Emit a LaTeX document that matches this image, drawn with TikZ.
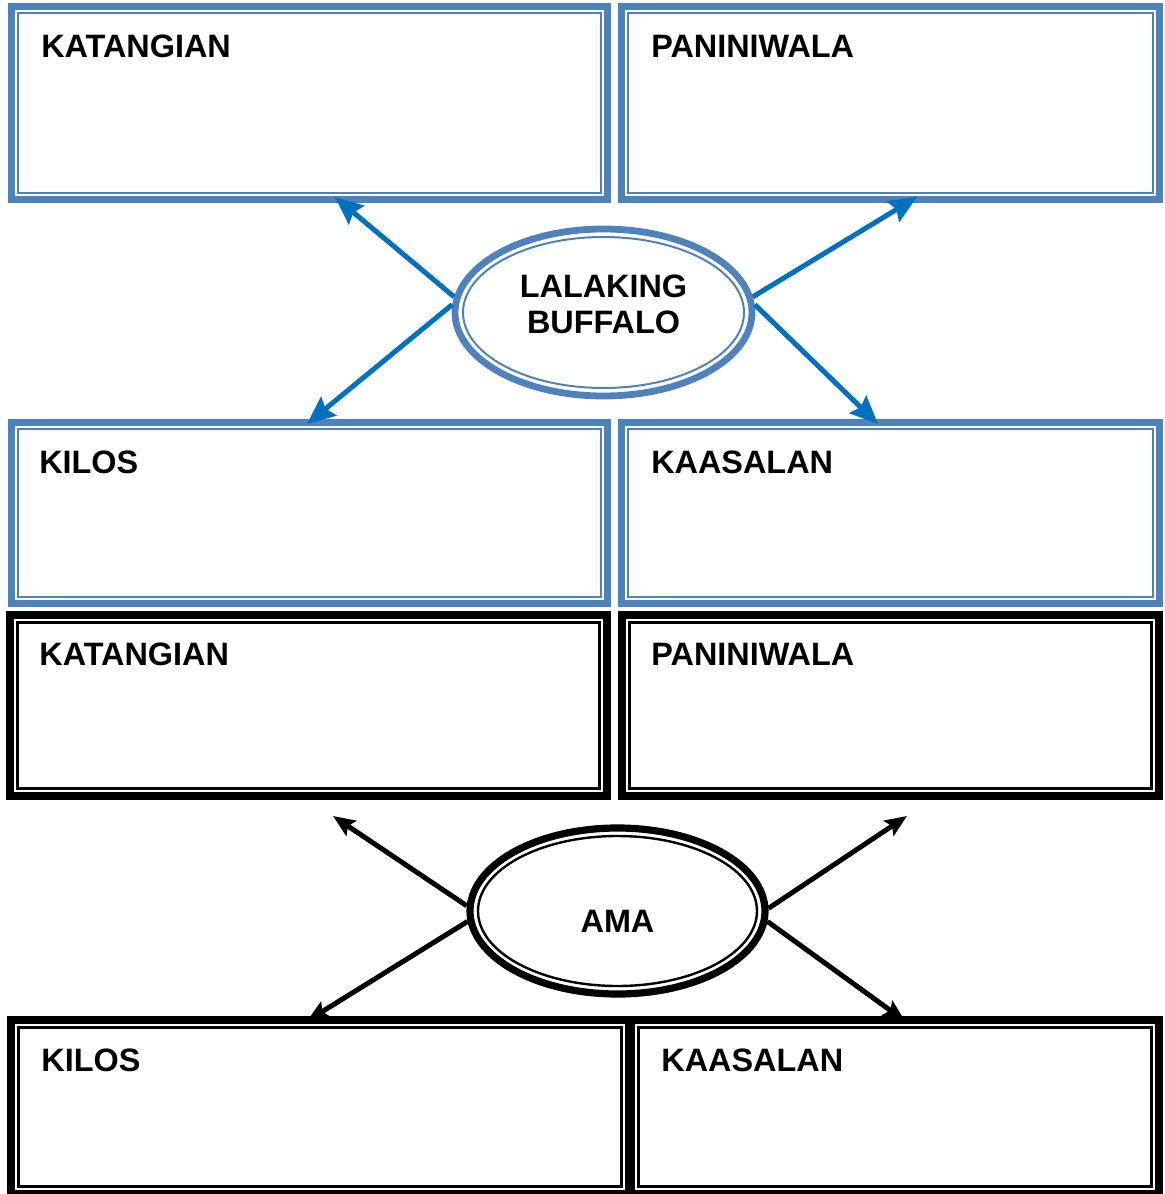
\documentclass[tikz,border=0pt]{standalone}
\usepackage{fontspec}
\setmainfont{Liberation Sans}
\usetikzlibrary{arrows.meta, shapes.geometric, calc}
\definecolor{boxblue}{RGB}{79,129,189}
\definecolor{arrowblue}{RGB}{0,112,192}

\begin{document}
\begin{tikzpicture}[x=0.5pt, y=-0.5pt,
  bluebox/.style={draw=boxblue, line width=3.6pt, inner sep=0pt,
    path picture={\draw[boxblue, line width=1pt]
      ([shift={(3.3pt,-3.3pt)}]path picture bounding box.north west) rectangle
      ([shift={(-3.3pt,3.3pt)}]path picture bounding box.south east);}},
  blackbox/.style={draw=black, line width=4pt, inner sep=0pt,
    path picture={\draw[black, line width=1.3pt]
      ([shift={(3.8pt,-3.8pt)}]path picture bounding box.north west) rectangle
      ([shift={(-3.8pt,3.8pt)}]path picture bounding box.south east);}},
  blueoval/.style={ellipse, draw=boxblue, line width=3.4pt, inner sep=0pt,
    path picture={\draw[boxblue, line width=1pt]
      let \p1=(path picture bounding box.north east),
          \p2=(path picture bounding box.center) in
      (\p2) ellipse [x radius=\x1-\x2-4pt, y radius=\y1-\y2-4pt];}},
  blackoval/.style={ellipse, draw=black, line width=3.6pt, inner sep=0pt,
    path picture={\draw[black, line width=1.2pt]
      let \p1=(path picture bounding box.north east),
          \p2=(path picture bounding box.center) in
      (\p2) ellipse [x radius=\x1-\x2-4pt, y radius=\y1-\y2-4pt];}},
  boxlabel/.style={anchor=base west, inner sep=0pt, font=\fontsize{16.2}{18}\selectfont\bfseries},
  ovaltext/.style={align=center, inner sep=0pt, font=\fontsize{16.2}{18}\selectfont\bfseries},
  bluearrow/.style={arrowblue, line width=2.5pt, -{Stealth[length=14pt, width=12pt, inset=2pt]}},
  blackarrow/.style={black, line width=2.5pt, -{Stealth[length=11pt, width=9pt, inset=2pt]}}
]
  \useasboundingbox (0,0) rectangle (1164,1194);

  % blue group
  \node[bluebox, minimum width=298pt, minimum height=96.5pt] (kat1) at (309.5,103) {};
  \node[bluebox, minimum width=269pt, minimum height=96.5pt] (pan1) at (890.5,103) {};
  \node[bluebox, minimum width=298pt, minimum height=90.5pt] (kil1) at (309.5,513) {};
  \node[bluebox, minimum width=269pt, minimum height=90.5pt] (kaa1) at (890.5,513) {};
  \node[boxlabel] (kat1lbl) at ([shift={(16.5pt,-27.5pt)}]kat1.north west) {KATANGIAN};
  \node[boxlabel] (pan1lbl) at ([shift={(16.5pt,-27.5pt)}]pan1.north west) {PANINIWALA};
  \node[boxlabel] (kil1lbl) at ([shift={(15.5pt,-27.5pt)}]kil1.north west) {KILOS};
  \node[boxlabel] (kaa1lbl) at ([shift={(16.5pt,-27.5pt)}]kaa1.north west) {KAASALAN};

  \node[blueoval, minimum width=148.5pt, minimum height=83.5pt] (buff) at (603.5,312.5) {};
  \node[ovaltext] (bufflbl) at ([yshift=4pt]buff.center) {LALAKING\\BUFFALO};

  \coordinate (t1) at (335,197);
  \coordinate (t2) at (307,424);
  \coordinate (t3) at (917,197);
  \coordinate (t4) at (878,424);
  \draw[bluearrow] (buff.174) -- (t1);
  \draw[bluearrow] (buff.177) -- (t2);
  \draw[bluearrow] (buff.6) -- (t3);
  \draw[bluearrow] (buff.3) -- (t4);

  % black group
  \node[blackbox, minimum width=298.5pt, minimum height=90.5pt] (kat2) at (308.5,705.5) {};
  \node[blackbox, minimum width=268.5pt, minimum height=90.5pt] (pan2) at (890.5,705.5) {};
  \node[blackbox, minimum width=309pt, minimum height=87pt] (kil2) at (320,1107) {};
  \node[blackbox, minimum width=264pt, minimum height=87pt] (kaa2) at (895,1107) {};
  \node[boxlabel] (kat2lbl) at ([shift={(16.5pt,-27pt)}]kat2.north west) {KATANGIAN};
  \node[boxlabel] (pan2lbl) at ([shift={(16.5pt,-27pt)}]pan2.north west) {PANINIWALA};
  \node[boxlabel] (kil2lbl) at ([shift={(17pt,-27.5pt)}]kil2.north west) {KILOS};
  \node[boxlabel] (kaa2lbl) at ([shift={(17pt,-27.5pt)}]kaa2.north west) {KAASALAN};

  \node[blackoval, minimum width=147.5pt, minimum height=83pt] (ama) at (617.5,911) {};
  \node[ovaltext] (amalbl) at ([yshift=-5pt]ama.center) {AMA};

  \coordinate (t5) at (333,816);
  \coordinate (t6) at (307,1021);
  \coordinate (t7) at (907,816);
  \coordinate (t8) at (905,1021);
  \draw[blackarrow] (ama.178) -- (t5);
  \draw[blackarrow] (ama.184) -- (t6);
  \draw[blackarrow] (ama.1) -- (t7);
  \draw[blackarrow] (ama.-4) -- (t8);
\end{tikzpicture}
\end{document}
